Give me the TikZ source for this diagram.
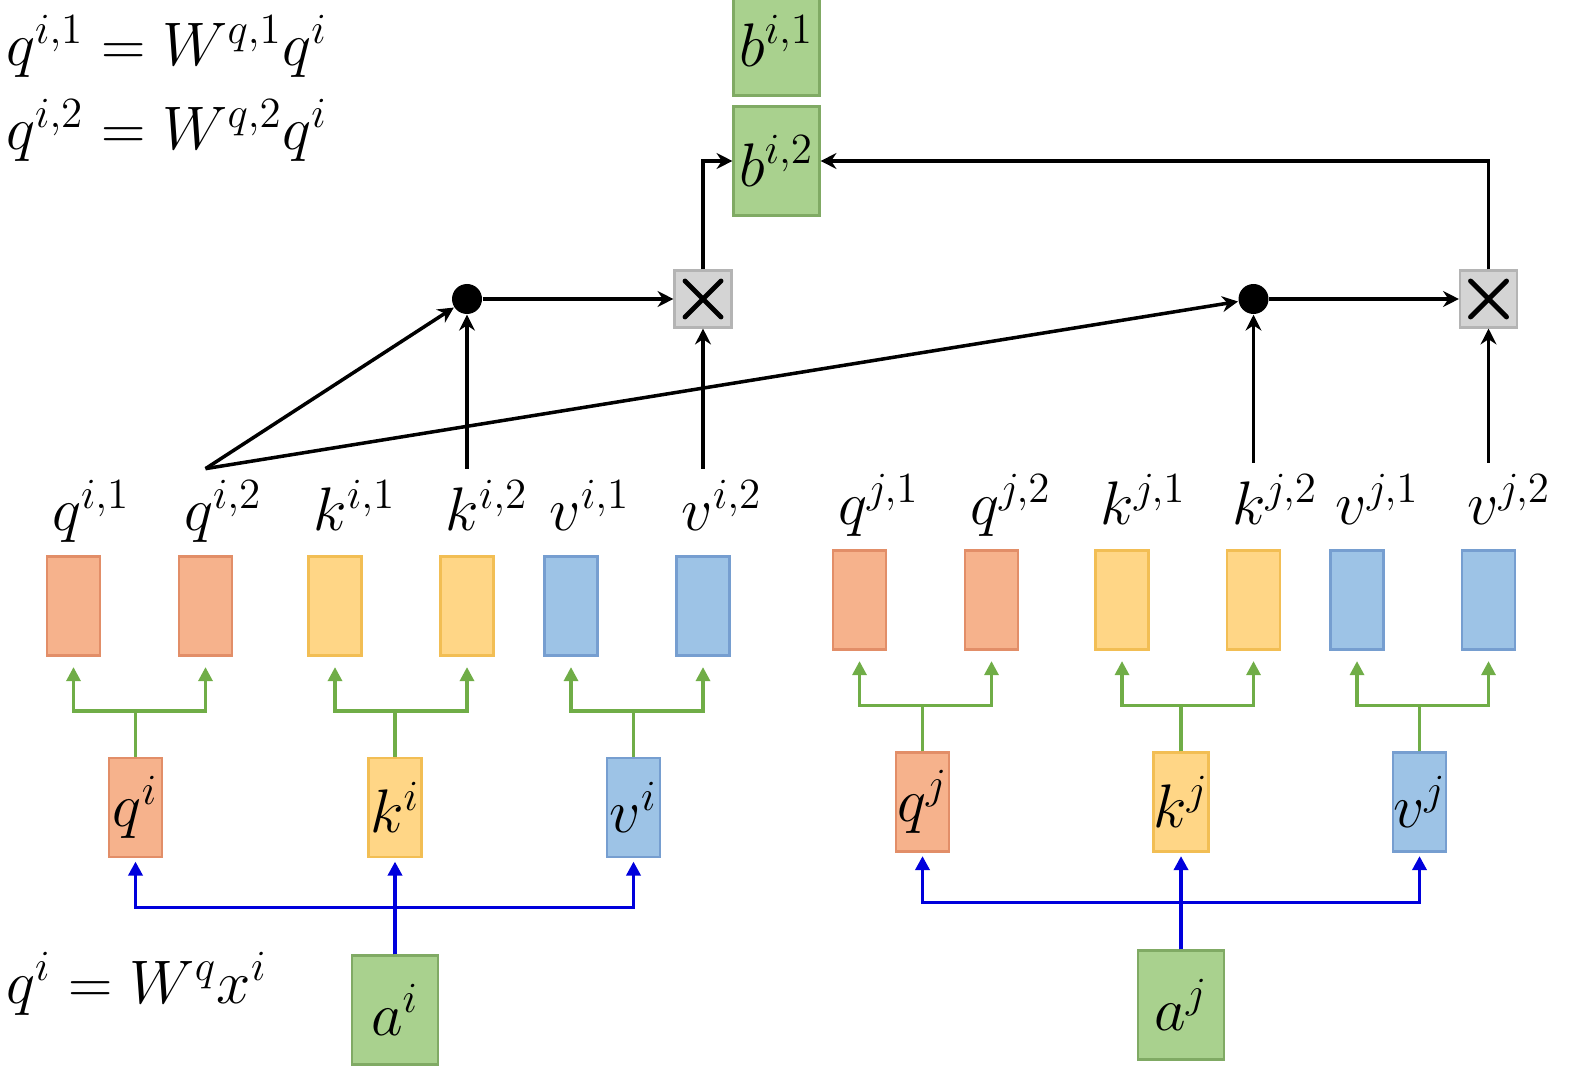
\RequirePackage{fix-cm}
\documentclass[tikz,border=0pt]{standalone}
\usepackage{amsmath}
\usetikzlibrary{arrows.meta,positioning}

\begin{document}
\begin{tikzpicture}[
  font=\fontsize{17.5}{20}\selectfont,
  vec/.style={draw, line width=0.6pt, minimum width=0.53cm, minimum height=0.99cm, inner sep=0pt},
  qbox/.style={vec, draw=qedge, fill=qfill},
  kbox/.style={vec, draw=kedge, fill=kfill},
  vbox/.style={vec, draw=vedge, fill=vfill},
  gbox/.style={vec, draw=gedge, fill=gfill, minimum width=0.86cm, minimum height=1.09cm},
  lbl/.style={inner sep=3pt, anchor=base west},
  dotnode/.style={circle, fill=black, minimum size=0.3cm, inner sep=0pt},
  mult/.style={draw=medge, fill=mfill, line width=0.6pt, minimum size=0.57cm, inner sep=0pt,
    path picture={\draw[draw=black, line width=1.4pt, line cap=round]
      ([shift={(-0.18,-0.18)}]path picture bounding box.center) -- ([shift={(0.18,0.18)}]path picture bounding box.center)
      ([shift={(-0.18,0.18)}]path picture bounding box.center) -- ([shift={(0.18,-0.18)}]path picture bounding box.center);}},
  >={Stealth[length=4.5pt,width=4.5pt]},
  arr/.style={->, line width=1pt},
  garr/.style={-{Triangle[length=4pt,width=4pt]}, line width=0.9pt, draw=gline, shorten >=3pt},
  barr/.style={-{Triangle[length=4pt,width=4pt]}, line width=1pt, draw=bline, shorten >=1pt}
]
  \definecolor{qfill}{RGB}{246,178,140}
  \definecolor{qedge}{RGB}{226,142,104}
  \definecolor{kfill}{RGB}{255,214,134}
  \definecolor{kedge}{RGB}{242,190,84}
  \definecolor{vfill}{RGB}{157,195,230}
  \definecolor{vedge}{RGB}{118,158,208}
  \definecolor{gfill}{RGB}{169,209,142}
  \definecolor{gedge}{RGB}{128,170,100}
  \definecolor{mfill}{RGB}{212,212,212}
  \definecolor{medge}{RGB}{180,180,180}
  \definecolor{gline}{RGB}{112,173,71}
  \definecolor{bline}{RGB}{0,0,220}

  \useasboundingbox (0,0) rectangle (15.71,-10.83);

  % ================= FORMULAS =================
  \node[lbl] (eqa) at (-0.05,-0.66) {$q^{i,1} = W^{q,1}q^i$};
  \node[lbl] (eqb) at (-0.05,-1.50) {$q^{i,2} = W^{q,2}q^i$};
  \node[lbl] (eqc) at (-0.05,-10.03) {$q^i = W^q x^i$};

  % ================= TOKEN i =================
  \node[gbox] (ai) at (3.95,-10.10) {$a^i$};

  \node[qbox] (qi) at (1.355,-8.075) {$q^i$};
  \node[kbox] (ki) at (3.95,-8.075) {$k^i$};
  \node[vbox] (vi) at (6.335,-8.075) {$v^i$};

  \node[qbox] (bqi1) at (0.735,-6.06) {};
  \node[qbox] (bqi2) at (2.055,-6.06) {};
  \node[kbox] (bki1) at (3.35,-6.06) {};
  \node[kbox] (bki2) at (4.67,-6.06) {};
  \node[vbox] (bvi1) at (5.71,-6.06) {};
  \node[vbox] (bvi2) at (7.03,-6.06) {};

  \node[lbl] (lqi1) at ([shift={(-0.05,0.25)}]bqi1.north west) {$q^{i,1}$};
  \node[lbl] (lqi2) at ([shift={(-0.05,0.25)}]bqi2.north west) {$q^{i,2}$};
  \node[lbl] (lki1) at ([shift={(-0.05,0.25)}]bki1.north west) {$k^{i,1}$};
  \node[lbl] (lki2) at ([shift={(-0.05,0.25)}]bki2.north west) {$k^{i,2}$};
  \node[lbl] (lvi1) at ([shift={(-0.05,0.25)}]bvi1.north west) {$v^{i,1}$};
  \node[lbl] (lvi2) at ([shift={(-0.05,0.25)}]bvi2.north west) {$v^{i,2}$};

  \draw[barr] (ai.north) -- ++(0,0.47) -| (qi.south);
  \draw[barr] (ai.north) -- (ki.south);
  \draw[barr] (ai.north) -- ++(0,0.47) -| (vi.south);

  \draw[garr] (qi.north) -- ++(0,0.46) -| (bqi1.south);
  \draw[garr] (qi.north) -- ++(0,0.46) -| (bqi2.south);
  \draw[garr] (ki.north) -- ++(0,0.46) -| (bki1.south);
  \draw[garr] (ki.north) -- ++(0,0.46) -| (bki2.south);
  \draw[garr] (vi.north) -- ++(0,0.46) -| (bvi1.south);
  \draw[garr] (vi.north) -- ++(0,0.46) -| (bvi2.south);

  % ================= TOKEN j =================
  \node[gbox] (aj) at (11.81,-10.05) {$a^j$};

  \node[qbox] (qj) at (9.225,-8.02) {$q^j$};
  \node[kbox] (kj) at (11.81,-8.02) {$k^j$};
  \node[vbox] (vj) at (14.195,-8.02) {$v^j$};

  \node[qbox] (bqj1) at (8.595,-6.00) {};
  \node[qbox] (bqj2) at (9.915,-6.00) {};
  \node[kbox] (bkj1) at (11.22,-6.00) {};
  \node[kbox] (bkj2) at (12.535,-6.00) {};
  \node[vbox] (bvj1) at (13.57,-6.00) {};
  \node[vbox] (bvj2) at (14.885,-6.00) {};

  \node[lbl] (lqj1) at ([shift={(-0.05,0.25)}]bqj1.north west) {$q^{j,1}$};
  \node[lbl] (lqj2) at ([shift={(-0.05,0.25)}]bqj2.north west) {$q^{j,2}$};
  \node[lbl] (lkj1) at ([shift={(-0.05,0.25)}]bkj1.north west) {$k^{j,1}$};
  \node[lbl] (lkj2) at ([shift={(-0.05,0.25)}]bkj2.north west) {$k^{j,2}$};
  \node[lbl] (lvj1) at ([shift={(-0.05,0.25)}]bvj1.north west) {$v^{j,1}$};
  \node[lbl] (lvj2) at ([shift={(-0.05,0.25)}]bvj2.north west) {$v^{j,2}$};

  \draw[barr] (aj.north) -- ++(0,0.47) -| (qj.south);
  \draw[barr] (aj.north) -- (kj.south);
  \draw[barr] (aj.north) -- ++(0,0.47) -| (vj.south);

  \draw[garr] (qj.north) -- ++(0,0.46) -| (bqj1.south);
  \draw[garr] (qj.north) -- ++(0,0.46) -| (bqj2.south);
  \draw[garr] (kj.north) -- ++(0,0.46) -| (bkj1.south);
  \draw[garr] (kj.north) -- ++(0,0.46) -| (bkj2.south);
  \draw[garr] (vj.north) -- ++(0,0.46) -| (bvj1.south);
  \draw[garr] (vj.north) -- ++(0,0.46) -| (bvj2.south);

  % ================= HEAD 2 =================
  \node[dotnode] (doti) at (4.67,-2.99) {};
  \node[dotnode] (dotj) at (12.535,-2.99) {};
  \node[mult] (mi) at (7.03,-2.99) {};
  \node[mult] (mj) at (14.885,-2.99) {};

  \node[gbox] (bi1) at (7.765,-0.41) {$b^{i,1}$};
  \node[gbox] (bi2) at (7.765,-1.61) {$b^{i,2}$};

  \draw[arr] (lqi2.north -| bqi2) -- (doti);
  \draw[arr] (lqi2.north -| bqi2) -- (dotj);
  \draw[arr] (lki2.north -| bki2) -- (doti);
  \draw[arr] (lvi2.north -| bvi2) -- (mi);
  \draw[arr] (lkj2.north -| bkj2) -- (dotj);
  \draw[arr] (lvj2.north -| bvj2) -- (mj);
  \draw[arr] (doti) -- (mi);
  \draw[arr] (dotj) -- (mj);
  \draw[arr] (mi.north) |- (bi2.west);
  \draw[arr] (mj.north) |- (bi2.east);
\end{tikzpicture}
\end{document}
